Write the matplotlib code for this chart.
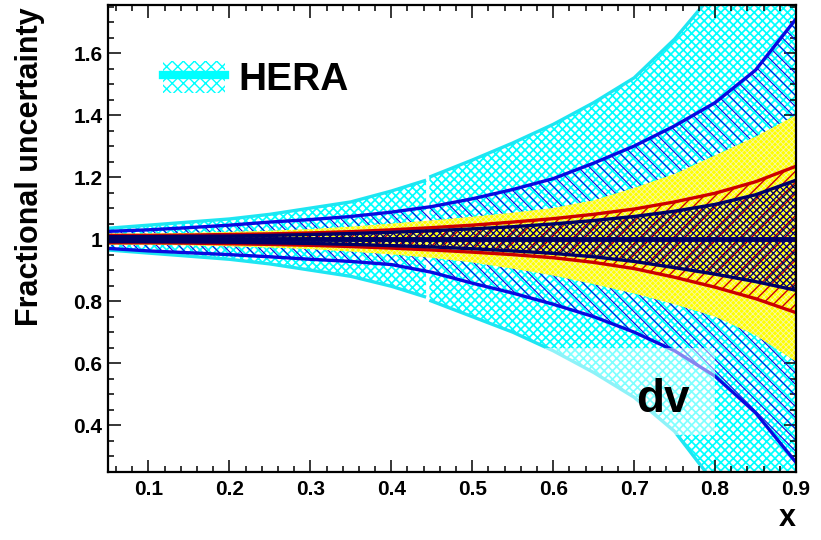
import matplotlib
matplotlib.use("Agg")
import matplotlib.pyplot as plt
from matplotlib.patches import Patch, Rectangle
from matplotlib.lines import Line2D
from matplotlib.ticker import MultipleLocator

# x grid shared by the model bands
x_grid = [0.05, 0.10, 0.15, 0.20, 0.25, 0.30, 0.35, 0.40, 0.45,
          0.50, 0.55, 0.60, 0.65, 0.70, 0.75, 0.80, 0.85, 0.90]

# blue hatched band
blue_up = [1.025, 1.03, 1.037, 1.045, 1.055, 1.063, 1.073, 1.087, 1.105,
           1.13, 1.16, 1.195, 1.245, 1.30, 1.365, 1.44, 1.545, 1.71]
blue_lo = [0.97, 0.962, 0.956, 0.95, 0.943, 0.935, 0.928, 0.918, 0.893,
           0.858, 0.826, 0.79, 0.75, 0.70, 0.64, 0.558, 0.44, 0.28]

# yellow band
yel_up = [1.018, 1.018, 1.02, 1.023, 1.027, 1.032, 1.04, 1.05, 1.06,
          1.072, 1.085, 1.10, 1.125, 1.165, 1.21, 1.27, 1.33, 1.40]
yel_lo = [0.982, 0.982, 0.98, 0.977, 0.973, 0.968, 0.96, 0.951, 0.94,
          0.925, 0.905, 0.883, 0.855, 0.825, 0.79, 0.75, 0.69, 0.605]

# red band
red_up = [1.012, 1.012, 1.013, 1.015, 1.017, 1.02, 1.024, 1.03, 1.037,
          1.045, 1.055, 1.066, 1.08, 1.097, 1.12, 1.148, 1.185, 1.235]
red_lo = [0.988, 0.988, 0.987, 0.985, 0.983, 0.98, 0.976, 0.971, 0.965,
          0.958, 0.95, 0.94, 0.925, 0.905, 0.877, 0.845, 0.808, 0.763]

# navy band
navy_up = [1.008, 1.008, 1.009, 1.01, 1.012, 1.015, 1.018, 1.022, 1.027,
           1.033, 1.04, 1.049, 1.06, 1.073, 1.09, 1.112, 1.143, 1.19]
navy_lo = [0.992, 0.992, 0.991, 0.99, 0.988, 0.986, 0.983, 0.979, 0.975,
           0.969, 0.962, 0.954, 0.943, 0.928, 0.908, 0.887, 0.863, 0.835]

# HERA band, two pieces (step near x=0.445)
hera_x1 = [0.05, 0.10, 0.15, 0.20, 0.25, 0.30, 0.35, 0.40, 0.443]
hera_up1 = [1.035, 1.045, 1.055, 1.065, 1.08, 1.10, 1.12, 1.155, 1.19]
hera_lo1 = [0.965, 0.955, 0.945, 0.935, 0.92, 0.90, 0.88, 0.848, 0.813]
hera_x2 = [0.447, 0.50, 0.55, 0.60, 0.65, 0.70, 0.75, 0.80, 0.85, 0.90]
hera_up2 = [1.20, 1.255, 1.31, 1.37, 1.44, 1.52, 1.645, 1.80, 1.98, 2.20]
hera_lo2 = [0.803, 0.75, 0.70, 0.64, 0.57, 0.49, 0.38, 0.21, 0.0, -0.25]

x_ticks = [0.1, 0.2, 0.3, 0.4, 0.5, 0.6, 0.7, 0.8, 0.9]
y_ticks = [0.4, 0.6, 0.8, 1.0, 1.2, 1.4, 1.6]
y_ticklabels = ["0.4", "0.6", "0.8", "1", "1.2", "1.4", "1.6"]

CYAN = "#00ffff"
CYAN_LINE = "#1ee6f2"
BLUE = "#0a0ae0"
RED = "#cc0000"
NAVY = "#000066"
YELLOW = "#ffff00"

plt.rcParams['font.family'] = ['Liberation Sans', 'DejaVu Sans']
plt.rcParams['font.weight'] = 'bold'


def hatched(ax, x, lo, hi, color, hatch, hlw, z):
    coll = ax.fill_between(x, lo, hi, facecolor='none', edgecolor=color,
                           hatch=hatch, linewidth=0, zorder=z)
    if hasattr(coll, 'set_hatch_linewidth'):
        coll.set_hatch_linewidth(hlw)
    return coll


fig = plt.figure(figsize=(8.21, 5.40), dpi=100)
ax = fig.add_axes([108 / 821, 1 - 472 / 540, 688 / 821, 467 / 540])

# HERA (outer cyan)
for hx, hl, hu in [(hera_x1, hera_lo1, hera_up1), (hera_x2, hera_lo2, hera_up2)]:
    hatched(ax, hx, hl, hu, CYAN, 'xxxx', 1.25, 1)
    ax.plot(hx, hu, color=CYAN_LINE, lw=2.4, zorder=1.5, solid_capstyle='butt')
    ax.plot(hx, hl, color=CYAN_LINE, lw=2.4, zorder=1.5, solid_capstyle='butt')

# blue band
hatched(ax, x_grid, blue_lo, blue_up, BLUE, '\\\\\\', 0.8, 2)
ax.plot(x_grid, blue_up, color=BLUE, lw=2.4, zorder=2.5)
ax.plot(x_grid, blue_lo, color=BLUE, lw=2.4, zorder=2.5)

# yellow band
ax.fill_between(x_grid, yel_lo, yel_up, facecolor=YELLOW, edgecolor='none', zorder=3)
hatched(ax, x_grid, yel_lo, yel_up, '#f7f7a8', 'xxxxxx', 0.6, 3.1)

# red band
hatched(ax, x_grid, red_lo, red_up, RED, '///', 1.0, 4)
ax.plot(x_grid, red_up, color=RED, lw=2.4, zorder=4.5)
ax.plot(x_grid, red_lo, color=RED, lw=2.4, zorder=4.5)

# navy band
hatched(ax, x_grid, navy_lo, navy_up, NAVY, 'xxxxx', 0.9, 5)
ax.plot(x_grid, navy_up, color=NAVY, lw=2.4, zorder=5.5)
ax.plot(x_grid, navy_lo, color=NAVY, lw=2.4, zorder=5.5)
ax.axhline(1.0, color=NAVY, lw=3.5, zorder=5.6)

# label box with translucent white background
ax.add_patch(Rectangle((0.59, 0.368), 0.21, 0.28, facecolor='white',
                       edgecolor='none', alpha=0.5, zorder=7))
ax.text(0.735, 0.442, "dv", fontsize=33, fontweight='bold', ha='center',
        va='baseline', zorder=8)

ax.set_xlim(0.05, 0.9)
ax.set_ylim(0.249, 1.755)
ax.set_xticks(x_ticks)
ax.set_xticklabels([f"{v:.1f}" for v in x_ticks])
ax.set_yticks(y_ticks)
ax.set_yticklabels(y_ticklabels)
ax.xaxis.set_minor_locator(MultipleLocator(0.02))
ax.yaxis.set_minor_locator(MultipleLocator(0.05))
ax.tick_params(which='both', direction='in', top=True, right=True,
               labelsize=15, width=1.1)
ax.tick_params(which='major', length=9)
ax.tick_params(which='minor', length=4.5)
ax.tick_params(axis='x', pad=6)
ax.tick_params(axis='y', pad=4)
for s in ax.spines.values():
    s.set_linewidth(1.6)
    s.set_zorder(10)

ax.set_ylabel("Fractional uncertainty", fontsize=22, fontweight='bold', loc='top')
ax.yaxis.set_label_coords(-0.092, 0.994)
ax.set_xlabel("x", fontsize=22, fontweight='bold', loc='right')
ax.xaxis.set_label_coords(1.0, -0.066)

handle = (Patch(facecolor='none', edgecolor=CYAN, hatch='xxx', linewidth=0),
          Line2D([], [], color=CYAN, lw=6))
leg = ax.legend([handle], ["HERA"], loc='center left',
                bbox_to_anchor=(0.08, 0.8405), frameon=False, fontsize=28,
                handlelength=1.6, handleheight=0.9, handletextpad=0.33,
                borderpad=0, borderaxespad=0)
leg.set_zorder(9)

fig.savefig("out.png", dpi=100)
